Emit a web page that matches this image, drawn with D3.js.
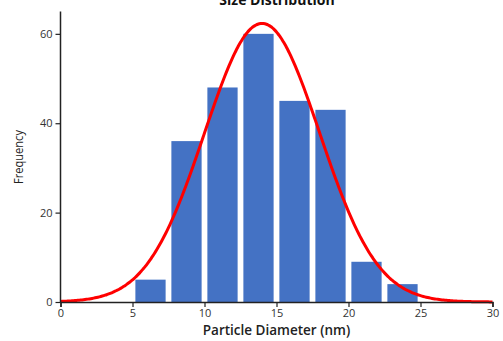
<!DOCTYPE html>
<html>
<head>
<meta charset="utf-8">
<script src="https://cdn.jsdelivr.net/npm/d3@7"></script>
<style>
  body { margin: 0; background: #fff; }
  text { font-family: "Open Sans", "DejaVu Sans", sans-serif; }
</style>
</head>
<body>
<svg id="hist" width="503" height="341"></svg>
<script>
// histogram bins (lower edge, nm) and counts
const binStarts = [5, 7.5, 10, 12.5, 15, 17.5, 20, 22.5]
const counts = [5, 36, 48, 60, 45, 43, 9, 4]
const binWidth = 2.5
const xTicks = [0, 5, 10, 15, 20, 25, 30]
const yTicks = [0, 20, 40, 60]
// normal fit
const fitMean = 14
const fitSd = 4

const svg = d3.select("#hist")
const x = d3.scaleLinear().domain([0, 30]).range([60.5, 492.5])
const y = d3.scaleLinear().domain([0, 65]).range([302, 11.5])

const total = d3.sum(counts)
const pad = binWidth * 0.08

svg.append("g")
    .selectAll("rect")
    .data(binStarts)
    .enter()
    .append("rect")
    .attr("x", (d) => x(d + pad))
    .attr("width", (d) => x(d + binWidth - pad) - x(d + pad))
    .attr("y", (d, i) => y(counts[i]))
    .attr("height", (d, i) => y(0) - y(counts[i]))
    .attr("fill", "#4472C4")

// fitted curve scaled to counts
const pts = d3.range(0, 30.01, 0.1).map((v) => {
    let z = (v - fitMean) / fitSd
    return [v, total * binWidth * Math.exp(-0.5 * z * z) / (fitSd * Math.sqrt(2 * Math.PI))]
})
svg.append("path")
    .datum(pts)
    .attr("d", d3.line().x((d) => x(d[0])).y((d) => y(d[1])).curve(d3.curveBasis))
    .attr("fill", "none")
    .attr("stroke", "#FF0000")
    .attr("stroke-width", 3)

const xAxis = svg.append("g")
    .attr("transform", "translate(0,302)")
    .call(d3.axisBottom(x).tickValues(xTicks).tickSize(5).tickPadding(2))
const yAxis = svg.append("g")
    .attr("transform", "translate(60.5,0)")
    .call(d3.axisLeft(y).tickValues(yTicks).tickSize(5).tickPadding(3))

yAxis.select(".domain").attr("d", "M0," + y(65) + "V" + y(0))
;[xAxis, yAxis].forEach((g) => {
    g.select(".domain").attr("stroke", "#222").attr("stroke-width", 1.5)
    g.selectAll(".tick line").attr("stroke", "#222").attr("stroke-width", 1.2)
    g.selectAll(".tick text")
        .attr("fill", "#333")
        .style("font-size", "11px")
        .style("font-family", "'Open Sans', sans-serif")
})

svg.append("text")
    .attr("x", 277).attr("y", 5)
    .attr("text-anchor", "middle")
    .style("font-size", "14px").style("font-weight", "bold")
    .attr("fill", "#111")
    .text("Size Distribution")

svg.append("text")
    .attr("x", 276.5).attr("y", 335)
    .attr("text-anchor", "middle")
    .style("font-size", "13.5px").style("font-weight", "600")
    .attr("fill", "#222")
    .text("Particle Diameter (nm)")

svg.append("text")
    .attr("transform", "translate(23,157) rotate(-90)")
    .attr("text-anchor", "middle")
    .style("font-size", "13px")
    .attr("textLength", 54)
    .attr("lengthAdjust", "spacingAndGlyphs")
    .attr("fill", "#222")
    .text("Frequency")
</script>
</body>
</html>
